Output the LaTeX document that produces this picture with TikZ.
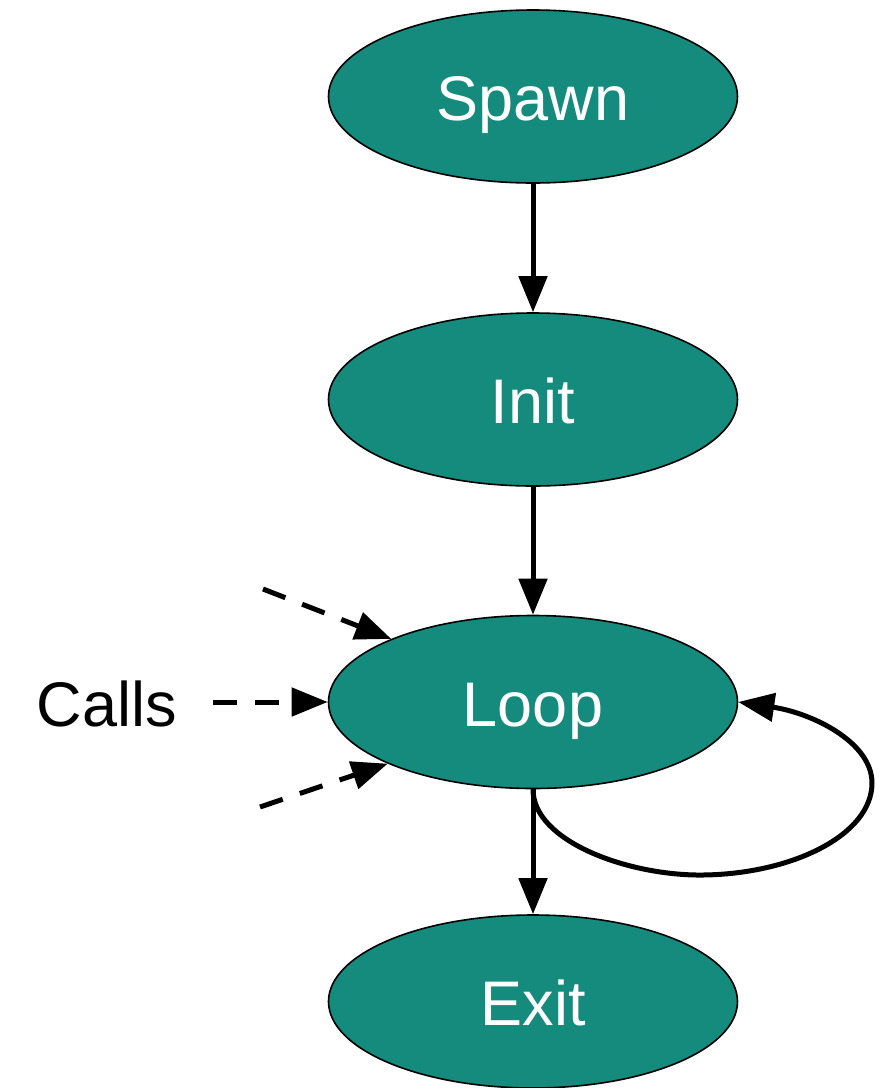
\documentclass[tikz,border=0pt]{standalone}
\usepackage{fontspec}
\setmainfont{Liberation Sans}
\usetikzlibrary{arrows.meta,shapes.geometric}
\definecolor{stateteal}{RGB}{20,139,125}
\tikzset{
  state/.style={ellipse, draw=black, line width=1.6pt, fill=stateteal,
    minimum width=409pt, minimum height=173pt, inner sep=0pt,
    text=white, font=\fontsize{63}{70}\selectfont,
    text height=48pt, text depth=0pt},
  plainlabel/.style={inner sep=0pt, text=black, font=\fontsize{63}{70}\selectfont,
    text height=48pt, text depth=0pt},
  edge/.style={line width=5pt, -{Triangle[length=36pt,width=28pt]}},
  calledge/.style={edge, dash pattern=on 24pt off 18pt}
}
\begin{document}
\begin{tikzpicture}[x=1pt,y=-1pt]
  \useasboundingbox (0,0) rectangle (888,1088);
  % states
  \node[state] (spawn) at (533,96.5)  {Spawn};
  \node[state] (init)  at (533,399.5) {Init};
  \node[state] (loop)  at (533,702)   {Loop};
  \node[state] (exit)  at (533,1001.5) {Exit};
  % external callers
  \node[plainlabel] (calls) at (107,702) {Calls};
  \coordinate (callA) at (263,589);
  \coordinate (callB) at (213,702);
  \coordinate (callC) at (260,807);
  % main flow
  \draw[edge] (spawn.south) -- (init.north);
  \draw[edge] (init.south) -- (loop.north);
  \draw[edge] (loop.south) -- (exit.north);
  % self loop
  \draw[edge] (loop.south) .. controls (533,842) and (630,876) .. (703,875)
    .. controls (792,874) and (872,835) .. (872,783)
    .. controls (872,742) and (812,713) .. (loop.east);
  % incoming calls
  \draw[calledge] (callA) -- (loop.156);
  \draw[calledge] (callB) -- (loop.west);
  \draw[calledge] (callC) -- (loop.203);
\end{tikzpicture}
\end{document}
